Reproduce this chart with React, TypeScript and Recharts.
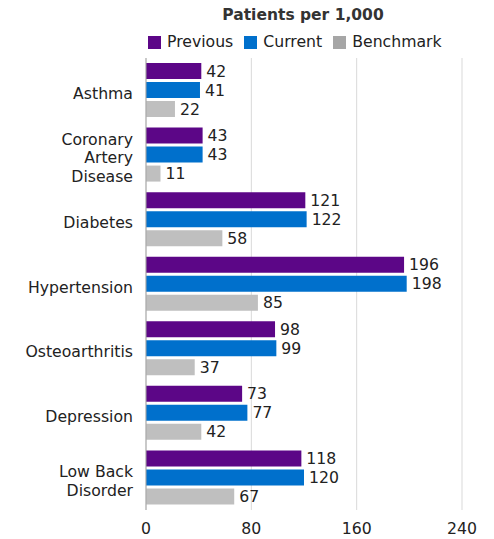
import React from "react";
import { BarChart, Bar, XAxis, YAxis, CartesianGrid, LabelList } from "recharts";

const categories = ["Asthma", "Coronary Artery Disease", "Diabetes", "Hypertension", "Osteoarthritis", "Depression", "Low Back Disorder"];
const categoryLines: string[][] = [["Asthma"], ["Coronary", "Artery", "Disease"], ["Diabetes"], ["Hypertension"], ["Osteoarthritis"], ["Depression"], ["Low Back", "Disorder"]];
const previous = [42, 43, 121, 196, 98, 73, 118];
const current = [41, 43, 122, 198, 99, 77, 120];
const benchmark = [22, 11, 58, 85, 37, 42, 67];
const xTicks = [0, 80, 160, 240];

const COLORS = { previous: "#5C0687", current: "#0070CC", benchmark: "#BFBFBF", benchmarkLegend: "#A6A6A6" };
const FONT = "'DejaVu Sans', Verdana, sans-serif";
const FS = 15.7;

const data = categories.map((c, i) => ({
  name: c,
  previous: previous[i],
  current: current[i],
  benchmark: benchmark[i],
}));

const CategoryTick = (props: any) => {
  const { x, y, payload, index } = props;
  const lines = categoryLines[index] || [payload.value];
  const lh = 18.5;
  const start = -((lines.length - 1) * lh) / 2 + 3;
  return (
    <text x={x - 5} y={y} textAnchor="end" fontSize={FS} fill="#222" fontFamily={FONT}>
      {lines.map((l: string, i: number) => (
        <tspan key={i} x={x - 5} y={y + start + i * lh} dy="0.355em">
          {l}
        </tspan>
      ))}
    </text>
  );
};

const legendItems = [
  { label: "Previous", color: COLORS.previous },
  { label: "Current", color: COLORS.current },
  { label: "Benchmark", color: COLORS.benchmarkLegend },
];

export default function App() {
  return (
    <div style={{ position: "relative", width: 486, height: 531, fontFamily: FONT }}>
      <div style={{ position: "absolute", left: 0, top: 0 }}>
        <BarChart
          width={486}
          height={531}
          data={data}
          layout="vertical"
          margin={{ top: 50, right: 32, bottom: 0, left: 0 }}
          barSize={16}
          barGap={3}
        >
          <CartesianGrid horizontal={false} vertical={true} stroke="#D9D9D9" strokeWidth={1} />
          <XAxis
            type="number"
            domain={[0, 240]}
            ticks={xTicks}
            axisLine={false}
            tickLine={false}
            height={29}
            dy={5}
            tick={{ fontSize: FS, fill: "#222", fontFamily: FONT }}
            interval={0}
          />
          <YAxis
            type="category"
            dataKey="name"
            width={138}
            axisLine={{ stroke: "#A6A6A6" }}
            tickLine={false}
            tick={<CategoryTick />}
            interval={0}
          />
          <Bar dataKey="previous" fill={COLORS.previous} isAnimationActive={false}>
            <LabelList dataKey="previous" position="right" offset={5} fontSize={FS} fill="#222" fontFamily={FONT} />
          </Bar>
          <Bar dataKey="current" fill={COLORS.current} isAnimationActive={false}>
            <LabelList dataKey="current" position="right" offset={5} fontSize={FS} fill="#222" fontFamily={FONT} />
          </Bar>
          <Bar dataKey="benchmark" fill={COLORS.benchmark} isAnimationActive={false}>
            <LabelList dataKey="benchmark" position="right" offset={5} fontSize={FS} fill="#222" fontFamily={FONT} />
          </Bar>
        </BarChart>
      </div>
      <div style={{ position: "absolute", zIndex: 2, left: 0, width: 590, top: -2, textAlign: "center", fontWeight: "bold", fontSize: 15.5, color: "#333", lineHeight: "18px" }}>
        Patients per 1,000
      </div>
      <div style={{ position: "absolute", zIndex: 2, left: 140, top: 25, display: "flex", alignItems: "center", fontSize: FS, color: "#222", lineHeight: "18px" }}>
        {legendItems.map((it, i) => (
          <div key={i} style={{ display: "flex", alignItems: "center", marginRight: 11 }}>
            <span style={{ display: "inline-block", width: 13, height: 13, background: it.color, marginRight: 6 }} />
            <span>{it.label}</span>
          </div>
        ))}
      </div>
    </div>
  );
}
